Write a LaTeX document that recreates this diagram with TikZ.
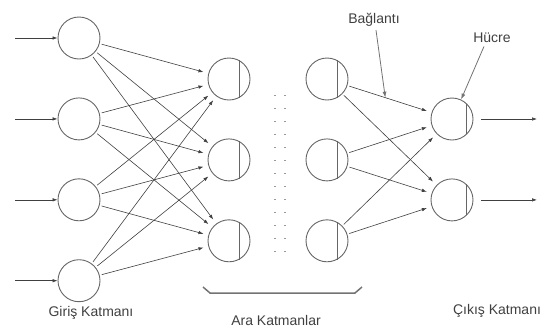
\documentclass[tikz,border=0pt]{standalone}
\usepackage{fontspec}
\setmainfont{Liberation Sans}
\usetikzlibrary{arrows.meta, positioning}

\begin{document}
\begin{tikzpicture}[
    x=1pt, y=-1pt,
    node distance = 38pt and 55pt,
    hucre/.style = {circle, draw=black!60, line width=0.9pt, minimum size=42pt, inner sep=0pt},
    kiris/.style = {black!60, line width=0.9pt},
    pil/.style = {black!75, line width=0.6pt, -{Latex[length=5pt,width=3.5pt]}, shorten >=5pt, shorten <=2pt},
    isaret/.style = {black!55, line width=0.8pt, -{Latex[length=6pt,width=4pt]}},
    etiket/.style = {font=\fontsize{14}{16}\selectfont, text=black!75},
    ]
    \useasboundingbox (0,0) rectangle (541,333);
    %nodes
    \node[hucre] (g1) at (79,38) {};
    \node[hucre] (g2) [below=of g1] {};
    \node[hucre] (g3) [below=of g2] {};
    \node[hucre] (g4) [below=of g3] {};

    \node[hucre] (a1) at (229,79) {};
    \node[hucre] (a2) [below=of a1] {};
    \node[hucre] (a3) [below=of a2] {};

    \node[hucre] (b1) at (327,79) {};
    \node[hucre] (b2) [below=of b1] {};
    \node[hucre] (b3) [below=of b2] {};

    \node[hucre] (c1) at (452,119) {};
    \node[hucre] (c2) [below=of c1] {};

    \coordinate (s1) at ([xshift=-64pt]g1.center);
    \coordinate (s2) at ([xshift=-64pt]g2.center);
    \coordinate (s3) at ([xshift=-64pt]g3.center);
    \coordinate (s4) at ([xshift=-64pt]g4.center);
    \coordinate (e1) at ([xshift=85pt]c1.center);
    \coordinate (e2) at ([xshift=85pt]c2.center);

    \node[etiket] (giris) at (91,313) {Giriş Katmanı};
    \node[etiket] (ara) at (276,320) {Ara Katmanlar};
    \node[etiket] (cikis) at (497,311) {Çıkış Katmanı};
    \node[etiket] (baglanti) at (374,20) {Bağlantı};
    \node[etiket] (hucrelbl) at (492,38) {Hücre};

    % chords
    \draw[kiris] (a1.62) -- (a1.-62) (a2.62) -- (a2.-62) (a3.62) -- (a3.-62);
    \draw[kiris] (b1.62) -- (b1.-62) (b2.62) -- (b2.-62) (b3.62) -- (b3.-62);
    \draw[kiris] (c1.46) -- (c1.-46) (c2.46) -- (c2.-46);

    % edges
    \path[pil, shorten >=0pt, shorten <=0pt] (s1) edge (g1)
    (s2) edge (g2)
    (s3) edge (g3)
    (s4) edge (g4);
    \path[pil] (g1) edge (a1) (g1) edge (a2) (g1) edge (a3)
    (g2) edge (a1) (g2) edge (a2) (g2) edge (a3)
    (g3) edge (a1) (g3) edge (a2) (g3) edge (a3)
    (g4) edge (a1) (g4) edge (a2) (g4) edge (a3);
    \path[pil] (b1) edge (c1) (b1) edge (c2)
    (b2) edge (c1) (b2) edge (c2)
    (b3) edge (c1) (b3) edge (c2);
    \path[pil, shorten >=0pt, shorten <=8pt] (c1) edge (e1)
    (c2) edge (e2);

    % dots between hidden layers
    \draw[black!40, line width=1.2pt, dash pattern=on 1.2pt off 11.8pt] (275,95) -- (275,252);
    \draw[black!40, line width=1.2pt, dash pattern=on 1.2pt off 11.8pt] (285,95) -- (285,252);

    % bracket
    \draw[black!55, line width=1.5pt] (203,287) -- (210,293) -- (355,293) -- (362,287);

    % pointers
    \path (b1) -- (c1) coordinate[pos=0.45] (bag);
    \draw[isaret] ([xshift=2pt]baglanti.south) -- (bag);
    \draw[isaret] ([xshift=-8pt]hucrelbl.south) -- (c1.65);
\end{tikzpicture}
\end{document}
